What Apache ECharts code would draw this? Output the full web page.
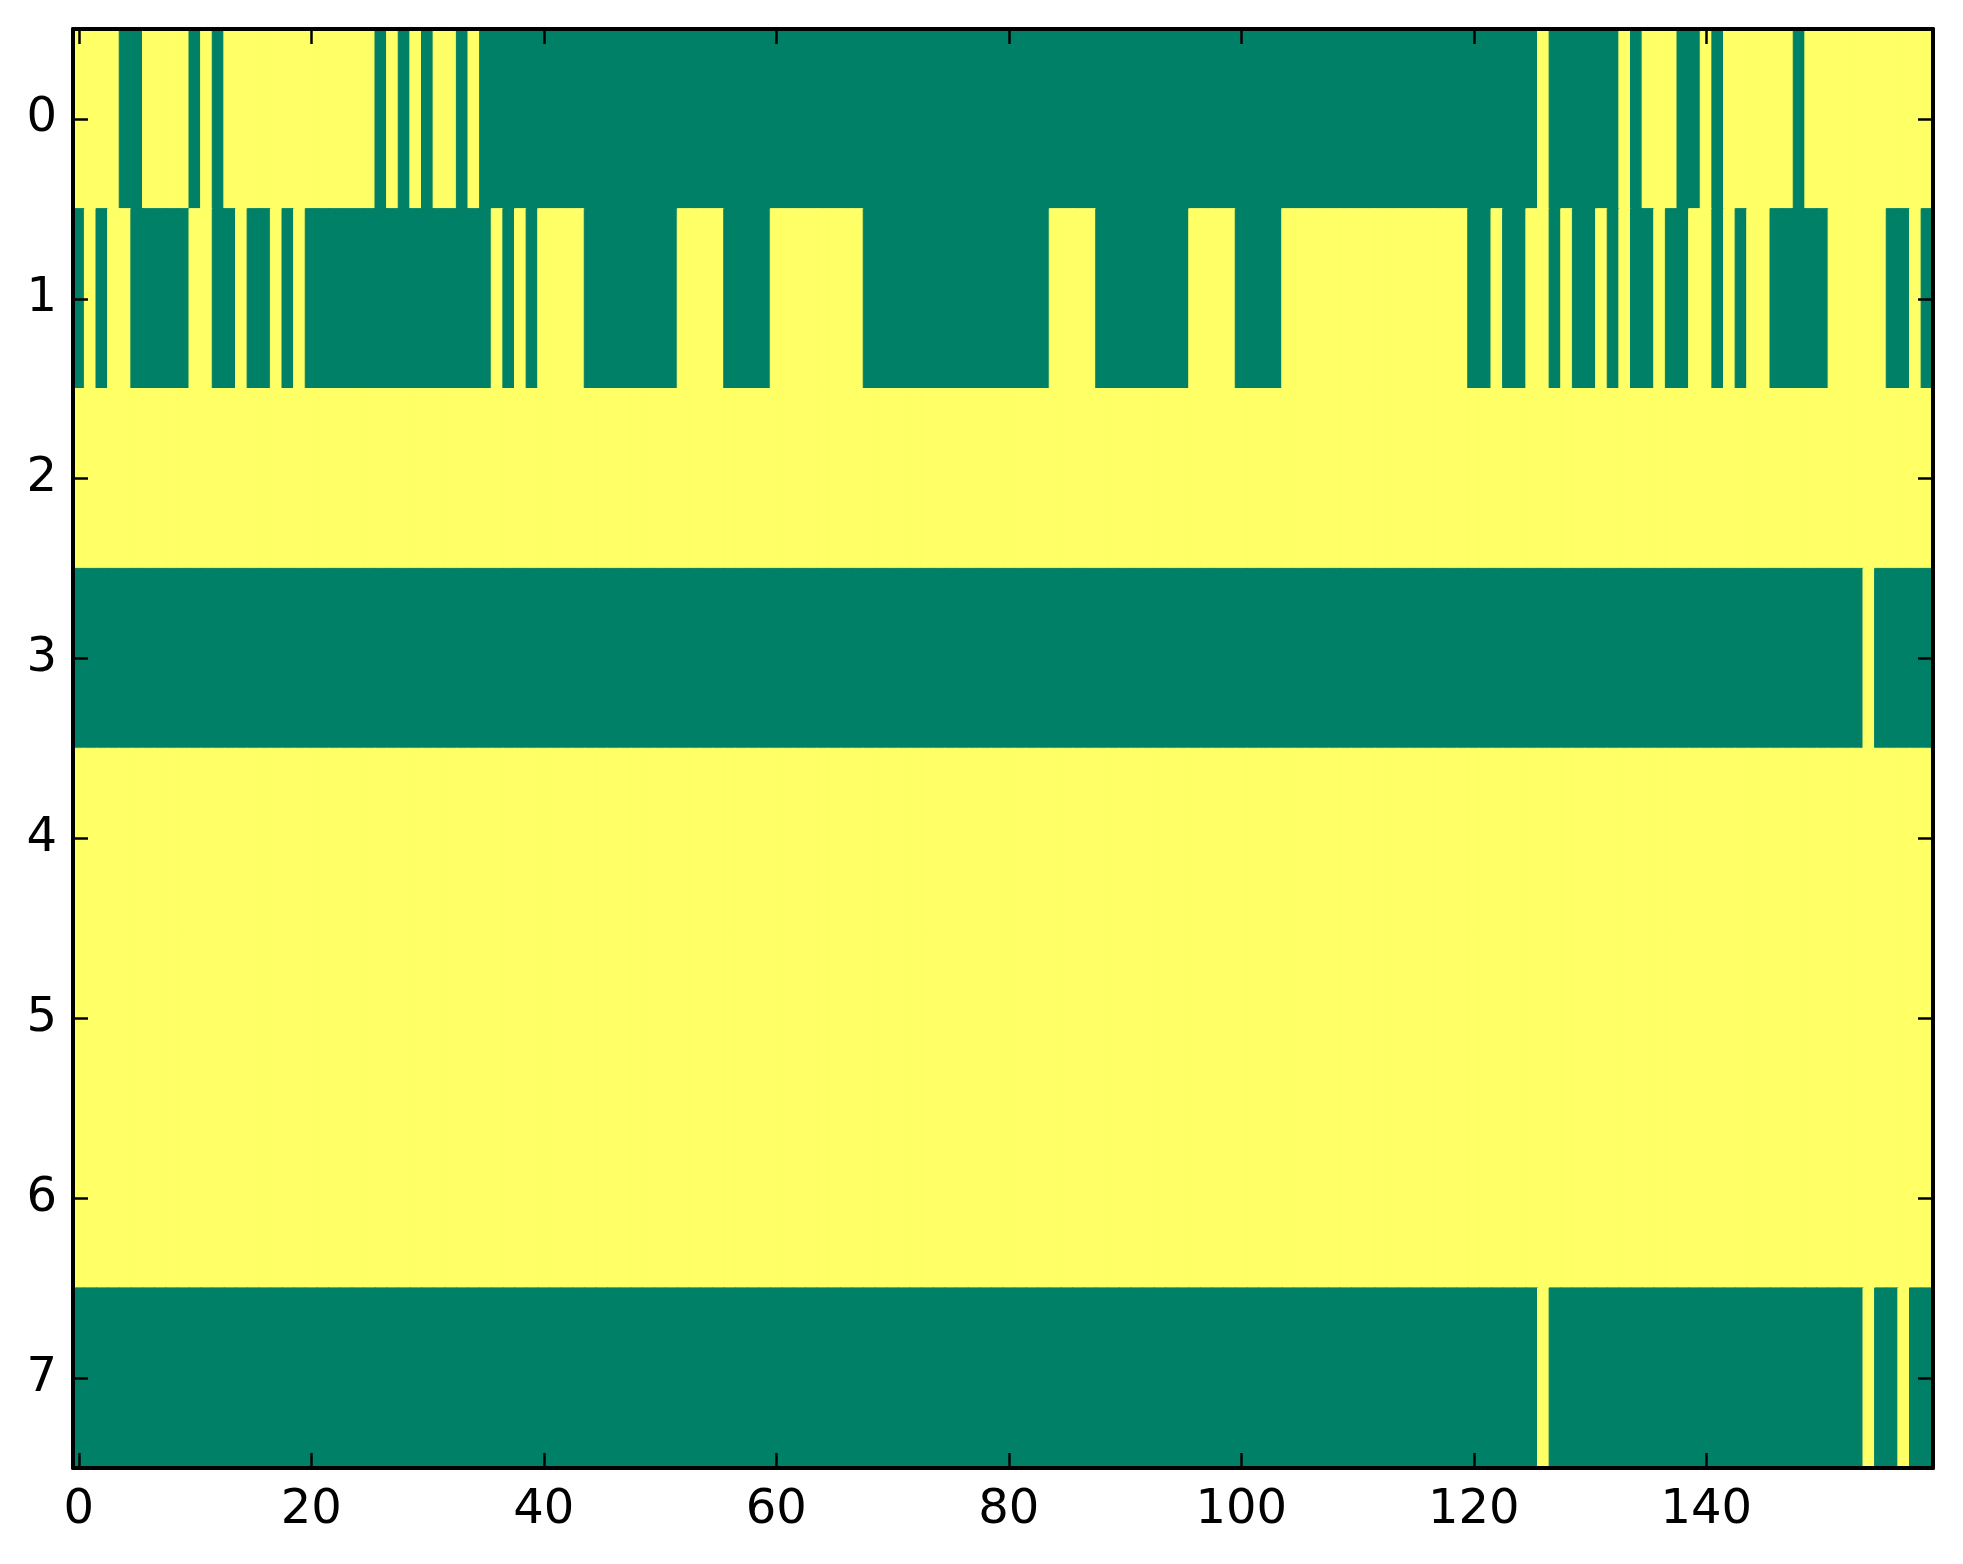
<!DOCTYPE html>
<html>
<head>
<meta charset="utf-8">
<script src="https://cdn.jsdelivr.net/npm/echarts@6/dist/echarts.min.js"></script>
<style>
  html, body { margin: 0; padding: 0; background: #fff; }
  #chart { width: 1963px; height: 1564px; }
</style>
</head>
<body>
<div id="chart"></div>
<script>
// 1 = 黄色, 0 = 绿色 (summer 色带)
var row0 = [1,1,1,1,0,0,1,1,1,1, 0,1,0,1,1,1,1,1,1,1, 1,1,1,1,1,1,0,1,0,1, 0,1,1,0,1,0,0,0,0,0,
            0,0,0,0,0,0,0,0,0,0, 0,0,0,0,0,0,0,0,0,0, 0,0,0,0,0,0,0,0,0,0, 0,0,0,0,0,0,0,0,0,0,
            0,0,0,0,0,0,0,0,0,0, 0,0,0,0,0,0,0,0,0,0, 0,0,0,0,0,0,0,0,0,0, 0,0,0,0,0,0,0,0,0,0,
            0,0,0,0,0,0,1,0,0,0, 0,0,0,1,0,1,1,1,0,0, 1,0,1,1,1,1,1,1,0,1, 1,1,1,1,1,1,1,1,1,1];
var row1 = [0,1,0,1,1,0,0,0,0,0, 1,1,0,0,1,0,0,1,0,1, 0,0,0,0,0,0,0,0,0,0, 0,0,0,0,0,0,1,0,1,0,
            1,1,1,1,0,0,0,0,0,0, 0,0,1,1,1,1,0,0,0,0, 1,1,1,1,1,1,1,1,0,0, 0,0,0,0,0,0,0,0,0,0,
            0,0,0,0,1,1,1,1,0,0, 0,0,0,0,0,0,1,1,1,1, 0,0,0,0,1,1,1,1,1,1, 1,1,1,1,1,1,1,1,1,1,
            0,0,1,0,0,1,1,0,1,0, 0,1,0,1,0,0,1,0,0,1, 1,0,1,0,1,1,0,0,0,0, 0,1,1,1,1,1,0,0,1,0];
var row2 = [1,1,1,1,1,1,1,1,1,1, 1,1,1,1,1,1,1,1,1,1, 1,1,1,1,1,1,1,1,1,1, 1,1,1,1,1,1,1,1,1,1,
            1,1,1,1,1,1,1,1,1,1, 1,1,1,1,1,1,1,1,1,1, 1,1,1,1,1,1,1,1,1,1, 1,1,1,1,1,1,1,1,1,1,
            1,1,1,1,1,1,1,1,1,1, 1,1,1,1,1,1,1,1,1,1, 1,1,1,1,1,1,1,1,1,1, 1,1,1,1,1,1,1,1,1,1,
            1,1,1,1,1,1,1,1,1,1, 1,1,1,1,1,1,1,1,1,1, 1,1,1,1,1,1,1,1,1,1, 1,1,1,1,1,1,1,1,1,1];
var row3 = [0,0,0,0,0,0,0,0,0,0, 0,0,0,0,0,0,0,0,0,0, 0,0,0,0,0,0,0,0,0,0, 0,0,0,0,0,0,0,0,0,0,
            0,0,0,0,0,0,0,0,0,0, 0,0,0,0,0,0,0,0,0,0, 0,0,0,0,0,0,0,0,0,0, 0,0,0,0,0,0,0,0,0,0,
            0,0,0,0,0,0,0,0,0,0, 0,0,0,0,0,0,0,0,0,0, 0,0,0,0,0,0,0,0,0,0, 0,0,0,0,0,0,0,0,0,0,
            0,0,0,0,0,0,0,0,0,0, 0,0,0,0,0,0,0,0,0,0, 0,0,0,0,0,0,0,0,0,0, 0,0,0,0,1,0,0,0,0,0];
var row4 = [1,1,1,1,1,1,1,1,1,1, 1,1,1,1,1,1,1,1,1,1, 1,1,1,1,1,1,1,1,1,1, 1,1,1,1,1,1,1,1,1,1,
            1,1,1,1,1,1,1,1,1,1, 1,1,1,1,1,1,1,1,1,1, 1,1,1,1,1,1,1,1,1,1, 1,1,1,1,1,1,1,1,1,1,
            1,1,1,1,1,1,1,1,1,1, 1,1,1,1,1,1,1,1,1,1, 1,1,1,1,1,1,1,1,1,1, 1,1,1,1,1,1,1,1,1,1,
            1,1,1,1,1,1,1,1,1,1, 1,1,1,1,1,1,1,1,1,1, 1,1,1,1,1,1,1,1,1,1, 1,1,1,1,1,1,1,1,1,1];
var row5 = [1,1,1,1,1,1,1,1,1,1, 1,1,1,1,1,1,1,1,1,1, 1,1,1,1,1,1,1,1,1,1, 1,1,1,1,1,1,1,1,1,1,
            1,1,1,1,1,1,1,1,1,1, 1,1,1,1,1,1,1,1,1,1, 1,1,1,1,1,1,1,1,1,1, 1,1,1,1,1,1,1,1,1,1,
            1,1,1,1,1,1,1,1,1,1, 1,1,1,1,1,1,1,1,1,1, 1,1,1,1,1,1,1,1,1,1, 1,1,1,1,1,1,1,1,1,1,
            1,1,1,1,1,1,1,1,1,1, 1,1,1,1,1,1,1,1,1,1, 1,1,1,1,1,1,1,1,1,1, 1,1,1,1,1,1,1,1,1,1];
var row6 = [1,1,1,1,1,1,1,1,1,1, 1,1,1,1,1,1,1,1,1,1, 1,1,1,1,1,1,1,1,1,1, 1,1,1,1,1,1,1,1,1,1,
            1,1,1,1,1,1,1,1,1,1, 1,1,1,1,1,1,1,1,1,1, 1,1,1,1,1,1,1,1,1,1, 1,1,1,1,1,1,1,1,1,1,
            1,1,1,1,1,1,1,1,1,1, 1,1,1,1,1,1,1,1,1,1, 1,1,1,1,1,1,1,1,1,1, 1,1,1,1,1,1,1,1,1,1,
            1,1,1,1,1,1,1,1,1,1, 1,1,1,1,1,1,1,1,1,1, 1,1,1,1,1,1,1,1,1,1, 1,1,1,1,1,1,1,1,1,1];
var row7 = [0,0,0,0,0,0,0,0,0,0, 0,0,0,0,0,0,0,0,0,0, 0,0,0,0,0,0,0,0,0,0, 0,0,0,0,0,0,0,0,0,0,
            0,0,0,0,0,0,0,0,0,0, 0,0,0,0,0,0,0,0,0,0, 0,0,0,0,0,0,0,0,0,0, 0,0,0,0,0,0,0,0,0,0,
            0,0,0,0,0,0,0,0,0,0, 0,0,0,0,0,0,0,0,0,0, 0,0,0,0,0,0,0,0,0,0, 0,0,0,0,0,0,0,0,0,0,
            0,0,0,0,0,0,1,0,0,0, 0,0,0,0,0,0,0,0,0,0, 0,0,0,0,0,0,0,0,0,0, 0,0,0,0,1,0,0,1,0,0];

var rows = [row0, row1, row2, row3, row4, row5, row6, row7];
var rowLabels = ['0', '1', '2', '3', '4', '5', '6', '7'];

var GREEN = '#008066';
var YELLOW = '#ffff66';

// x 轴类目 0..159
var colLabels = [];
for (var i = 0; i < row0.length; i++) {
    colLabels.push(String(i));
}

// 转成 heatmap 需要的 [x, y, value]，描边同色，去掉格子之间的细缝
var cells = [];
rows.forEach(function (r, y) {
    r.forEach(function (v, x) {
        cells.push({
            value: [x, y, v],
            itemStyle: { borderColor: v ? YELLOW : GREEN, borderWidth: 1 }
        });
    });
});

var every20 = function (idx) { return idx % 20 === 0; };
var frameLine = { show: true, lineStyle: { color: '#000', width: 4 } };
var tickStyle = { color: '#000', width: 2.5 };
var labelFont = { fontFamily: 'DejaVu Sans', fontSize: 48, color: '#000' };

var chart = echarts.init(document.getElementById('chart'));

// 坐标轴放到上层 (zlevel 1)，刻度和边框压在色块上面
chart.setOption({
    animation: false,
    backgroundColor: '#fff',
    grid: { left: 73, right: 30, top: 29, bottom: 96 },
    visualMap: {
        show: false, min: 0, max: 1,
        inRange: { color: [GREEN, YELLOW] }
    },
    xAxis: [{
        type: 'category', data: colLabels, position: 'bottom', zlevel: 1,
        axisLine: frameLine,
        axisTick: { show: true, inside: true, length: 15, alignWithLabel: true, interval: every20, lineStyle: tickStyle },
        axisLabel: Object.assign({ interval: every20, margin: 19 }, labelFont),
        splitLine: { show: false }
    }, {
        type: 'category', data: colLabels, position: 'top', zlevel: 1,
        axisLine: frameLine,
        axisTick: { show: true, inside: true, length: 15, alignWithLabel: true, interval: every20, lineStyle: tickStyle },
        axisLabel: { show: false },
        splitLine: { show: false }
    }],
    yAxis: [{
        type: 'category', data: rowLabels, inverse: true, position: 'left', zlevel: 1,
        axisLine: frameLine,
        axisTick: { show: true, inside: true, length: 15, alignWithLabel: true, lineStyle: tickStyle },
        axisLabel: Object.assign({ margin: 16 }, labelFont),
        splitLine: { show: false }
    }, {
        type: 'category', data: rowLabels, inverse: true, position: 'right', zlevel: 1,
        axisLine: frameLine,
        axisTick: { show: true, inside: true, length: 15, alignWithLabel: true, lineStyle: tickStyle },
        axisLabel: { show: false },
        splitLine: { show: false }
    }],
    series: [{
        type: 'heatmap',
        xAxisIndex: 0, yAxisIndex: 0,
        data: cells,
        emphasis: { disabled: true }
    }]
});
</script>
</body>
</html>
